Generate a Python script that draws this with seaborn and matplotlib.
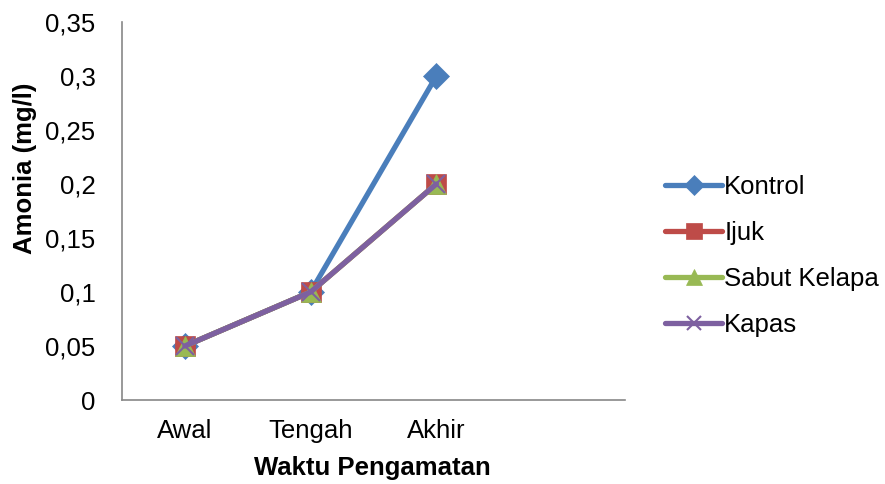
import matplotlib
matplotlib.use("Agg")
import matplotlib.pyplot as plt
import seaborn as sns
import pandas as pd

# Observation periods (the fourth slot is left empty on the axis)
categories = ["Awal", "Tengah", "Akhir"]
kontrol = [0.05, 0.10, 0.30]
ijuk = [0.05, 0.10, 0.20]
sabut_kelapa = [0.05, 0.10, 0.20]
kapas = [0.05, 0.10, 0.20]

series_names = ["Kontrol", "Ijuk", "Sabut Kelapa", "Kapas"]
series_values = [kontrol, ijuk, sabut_kelapa, kapas]
y_ticks = [0, 0.05, 0.10, 0.15, 0.20, 0.25, 0.30, 0.35]
y_tick_labels = ["0", "0,05", "0,1", "0,15", "0,2", "0,25", "0,3", "0,35"]

sns.set_theme(style="white")
plt.rcParams["font.family"] = ["Liberation Sans", "DejaVu Sans"]
plt.rcParams["text.color"] = "black"
plt.rcParams["axes.labelcolor"] = "black"

colors = ["#4A7EBB", "#BE4B48", "#98B954", "#7D60A0"]
markers = ["D", "s", "^", "x"]
msizes = [13, 14, 14, 13]

fig = plt.figure(figsize=(8.85, 4.84), dpi=100)
ax = fig.add_axes([122 / 885, 1 - 400 / 484, (625 - 122) / 885, (400 - 22) / 484])

df = pd.DataFrame(
    [(c, v, name) for name, vals in zip(series_names, series_values) for c, v in zip(categories, vals)],
    columns=["Waktu", "Amonia", "Perlakuan"],
)

for name, color, mk, ms in zip(series_names, colors, markers, msizes):
    sub = df[df["Perlakuan"] == name]
    sns.lineplot(data=sub, x="Waktu", y="Amonia", ax=ax, color=color, linewidth=3.8,
                 marker=mk, markersize=ms, markeredgecolor=color,
                 markeredgewidth=1.5 if mk == "x" else 0.5, label=name, legend=False)

ax.set_xlim(-0.5, 3.5)
ax.set_ylim(0, 0.35)
ax.set_yticks(y_ticks)
ax.set_yticklabels(y_tick_labels)
ax.set_xticks(range(len(categories)))
ax.set_xticklabels(categories)
ax.tick_params(axis="y", length=0, pad=19, labelsize=18.5, colors="black")
ax.tick_params(axis="x", length=0, pad=14, labelsize=18.5, colors="black")
ax.set_xlabel("")
ax.set_ylabel("")

for side in ["top", "right"]:
    ax.spines[side].set_visible(False)
for side in ["left", "bottom"]:
    ax.spines[side].set_color("#888888")
    ax.spines[side].set_linewidth(1.2)

fig.text(372 / 885, 1 - 468 / 484, "Waktu Pengamatan", ha="center", va="center",
         fontsize=18.5, fontweight="bold", color="black")
fig.text(25 / 885, 1 - 168 / 484, "Amonia (mg/l)", ha="center", va="center",
         rotation=90, fontsize=18.5, fontweight="bold", color="black")

leg = ax.legend(loc="center left", bbox_to_anchor=(655 / 885, 1 - 256 / 484),
                bbox_transform=fig.transFigure, frameon=False, fontsize=18.5,
                handlelength=2.2, handletextpad=0.1, labelspacing=0.86, borderaxespad=0,
                markerscale=0.8)
for t in leg.get_texts():
    t.set_color("black")

fig.savefig("out.png", dpi=100)
